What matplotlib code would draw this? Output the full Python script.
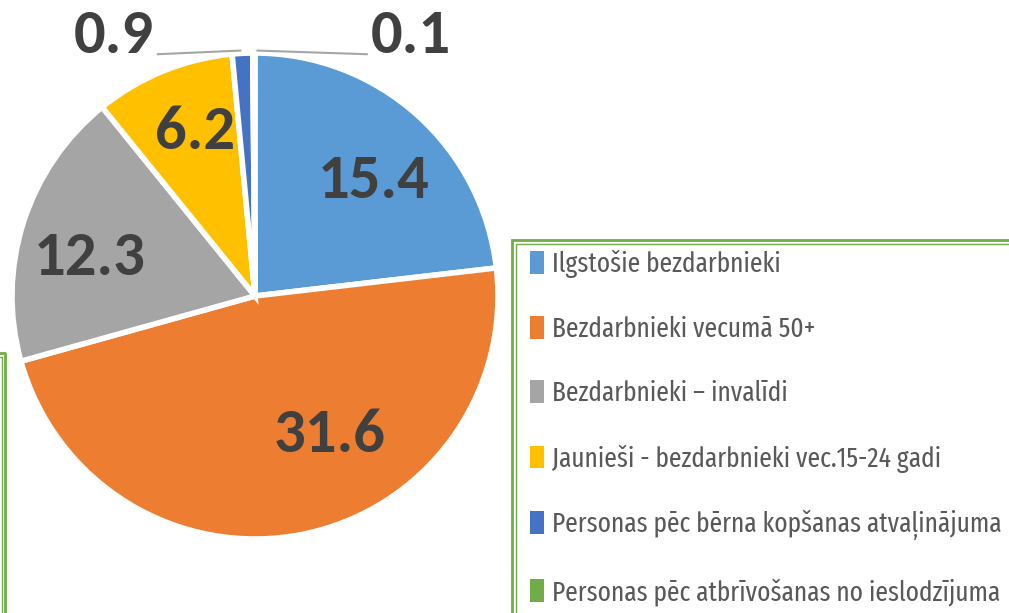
import matplotlib
matplotlib.use("Agg")
import matplotlib.pyplot as plt
import numpy as np
from matplotlib.lines import Line2D
from matplotlib.patches import Rectangle, Patch

categories = [
    "Ilgstošie bezdarbnieki",
    "Bezdarbnieki vecumā 50+",
    "Bezdarbnieki – invalīdi",
    "Jaunieši - bezdarbnieki vec.15-24 gadi",
    "Personas pēc bērna kopšanas atvaļinājuma",
    "Personas pēc atbrīvošanas no ieslodzījuma",
]
values = [15.4, 31.6, 12.3, 6.2, 0.9, 0.1]
value_labels = ["15.4", "31.6", "12.3", "6.2", "0.9", "0.1"]
colors = ["#5B9BD5", "#ED7D31", "#A5A5A5", "#FFC000", "#4472C4", "#70AD47"]

W, H = 1009, 613
fig = plt.figure(figsize=(W / 100, H / 100), dpi=100)

cx, cy, R = 255, 296, 243
ax = fig.add_axes([(cx - R) / W, (H - cy - R) / H, 2 * R / W, 2 * R / H])
wedges, _ = ax.pie(values, colors=colors, startangle=90, counterclock=False,
                   radius=1.0, wedgeprops=dict(edgecolor="white", linewidth=4))
ax.set_xlim(-1, 1)
ax.set_ylim(-1, 1)
ax.set_aspect("equal")
ax.axis("off")

num_font = dict(family=["Carlito", "DejaVu Sans"], fontweight="bold",
                fontsize=45, color="#404040")

inside = {0: (44, 0.68), 1: (-62, 0.65), 2: (167, 0.70), 3: (110, 0.72)}
for i, (ang, r) in inside.items():
    a = np.deg2rad(ang)
    ax.text(r * np.cos(a), r * np.sin(a), value_labels[i], ha="center",
            va="center", clip_on=False, **num_font)

ax.text(-0.58, 1.07, value_labels[4], ha="center", va="center",
        clip_on=False, **num_font)
ax.text(0.64, 1.07, value_labels[5], ha="center", va="center",
        clip_on=False, **num_font)
ax.add_line(Line2D([-0.40, -0.06], [0.995, 1.01], color="#A6A6A6", lw=1.5,
                   clip_on=False))
ax.add_line(Line2D([0.01, 0.46], [1.01, 0.995], color="#A6A6A6", lw=1.5,
                   clip_on=False))

# legend font size fitted to target width of longest label
leg_family = ["Fira Sans Extra Condensed", "DejaVu Sans"]
renderer = fig.canvas.get_renderer()
probe = fig.text(0, 0, categories[4], family=leg_family, size=20)
wpx = probe.get_window_extent(renderer).width
probe.remove()
leg_size = 20 * 450 / wpx

handles = [Patch(facecolor=c, edgecolor="none") for c in colors]
leg = fig.legend(handles, categories, loc="upper left",
                 bbox_to_anchor=(505 / W, 1 - 225 / H),
                 frameon=False, handlelength=0.5, handleheight=0.9,
                 handletextpad=0.3, labelspacing=1.36,
                 prop=dict(family=leg_family, size=leg_size))
for t in leg.get_texts():
    t.set_color("#595959")

green = "#70AD47"
fig.add_artist(Rectangle((512 / W, -0.01), 510 / W, 1 - 240 / H + 0.01,
                         transform=fig.transFigure, fill=False,
                         edgecolor=green, lw=2))
fig.add_artist(Rectangle((516 / W, -0.01), 510 / W, 1 - 244 / H + 0.01,
                         transform=fig.transFigure, fill=False,
                         edgecolor=green, lw=1))
fig.add_artist(Line2D([-0.01, 5 / W, 5 / W], [1 - 353 / H, 1 - 353 / H, 0],
                      transform=fig.transFigure, color=green, lw=2))
fig.add_artist(Line2D([-0.01, 1.5 / W, 1.5 / W], [1 - 357 / H, 1 - 357 / H, 0],
                      transform=fig.transFigure, color=green, lw=1))

fig.savefig("out.png", dpi=100)
